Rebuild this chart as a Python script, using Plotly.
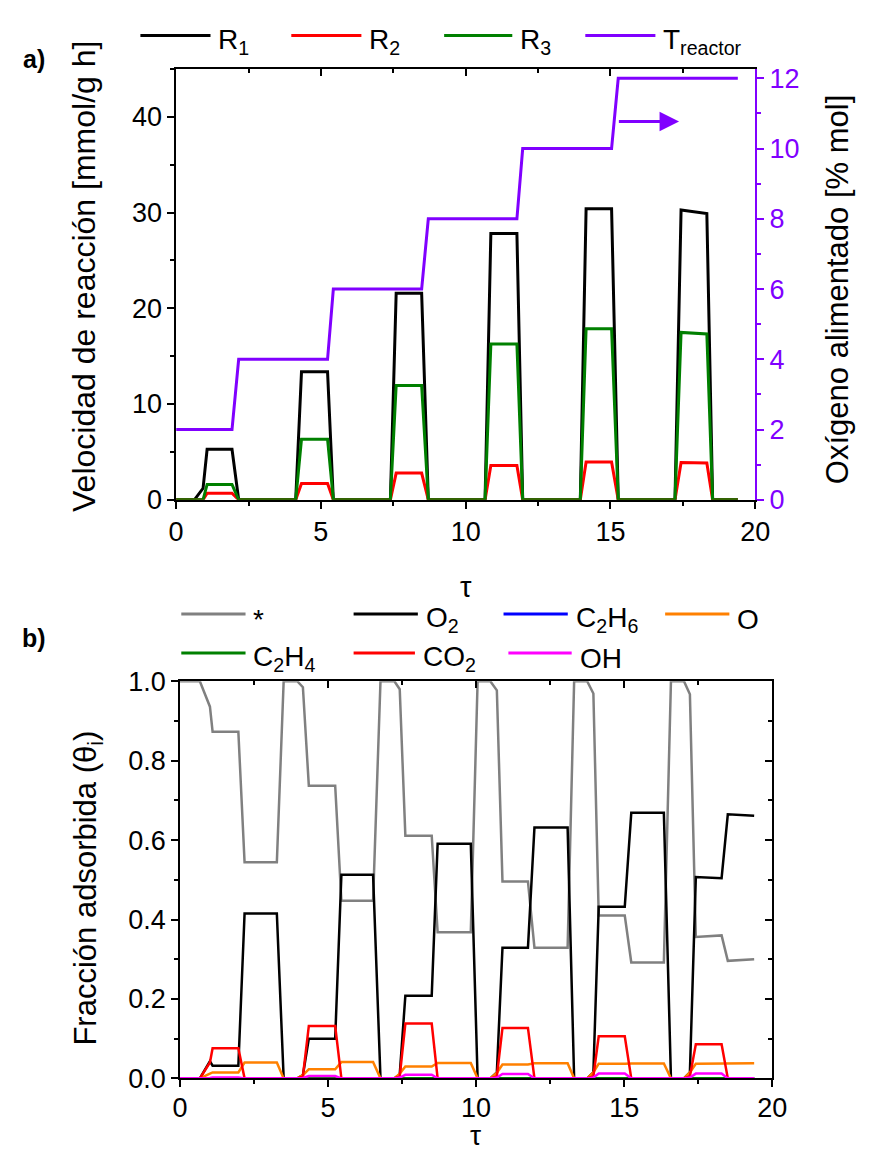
import plotly.graph_objects as go

W, H = 869, 1156
FONT = "Liberation Sans, Arial, sans-serif"

# ---------------- Panel a data ----------------
tau_a = [0, 0.63, 0.93, 1.07, 1.93, 2.16, 4.13, 4.33, 5.23, 5.43, 7.40, 7.60, 8.48, 8.71,
         10.67, 10.87, 11.77, 11.97, 13.96, 14.16, 15.04, 15.27, 17.23, 17.44, 18.33, 18.53, 19.40]
R1 = [0, 0, 1.2, 5.27, 5.27, 0, 0, 13.37, 13.37, 0, 0, 21.56, 21.56, 0,
      0, 27.8, 27.8, 0, 0, 30.4, 30.4, 0, 0, 30.27, 29.9, 0, 0]
R2 = [0, 0, 0, 0.68, 0.68, 0, 0, 1.70, 1.70, 0, 0, 2.79, 2.79, 0,
      0, 3.57, 3.57, 0, 0, 3.95, 3.95, 0, 0, 3.88, 3.84, 0, 0]
R3 = [0, 0, 0, 1.60, 1.60, 0, 0, 6.33, 6.33, 0, 0, 11.94, 11.94, 0,
      0, 16.26, 16.26, 0, 0, 17.86, 17.86, 0, 0, 17.48, 17.31, 0, 0]
tau_T = [0, 1.93, 2.16, 5.23, 5.43, 8.48, 8.71, 11.77, 11.97, 15.04, 15.27, 19.40]
T_reactor = [2, 2, 4, 4, 6, 6, 8, 8, 10, 10, 12, 12]
arrow_tau = [15.24, 17.37]
arrow_val = 10.77

# ---------------- Panel b data ----------------
tau_b = [0, 0.67, 1.01, 1.10, 1.97, 2.18, 3.27, 3.50, 3.96, 4.15, 4.35, 5.24, 5.45, 6.52,
         6.77, 7.24, 7.42, 7.61, 8.50, 8.70, 9.82, 10.05, 10.48, 10.70, 10.89, 11.75, 11.97,
         13.09, 13.31, 13.75, 13.96, 14.14, 15.02, 15.24, 16.34, 16.58, 17.02, 17.22, 17.42,
         18.29, 18.50, 19.39]
theta_star = [1.0, 1.0, 0.936, 0.873, 0.873, 0.544, 0.544, 1.0, 1.0, 0.985, 0.737, 0.737, 0.447, 0.447,
              1.0, 1.0, 0.98, 0.611, 0.611, 0.368, 0.368, 1.0, 1.0, 0.977, 0.496, 0.496, 0.329,
              0.329, 1.0, 1.0, 0.969, 0.41, 0.41, 0.292, 0.292, 1.0, 1.0, 0.967, 0.356,
              0.36, 0.296, 0.300]
theta_O2 = [0, 0, 0.043, 0.032, 0.032, 0.415, 0.415, 0, 0, 0.008, 0.10, 0.10, 0.513, 0.513,
            0, 0, 0.01, 0.208, 0.208, 0.591, 0.591, 0, 0, 0.015, 0.329, 0.329, 0.632,
            0.632, 0, 0, 0.015, 0.432, 0.432, 0.669, 0.669, 0, 0, 0.015, 0.507,
            0.504, 0.665, 0.661]
theta_C2H6 = [0] * 42
theta_O = [0, 0, 0.012, 0.015, 0.015, 0.040, 0.040, 0, 0, 0.008, 0.023, 0.023, 0.041, 0.041,
           0, 0, 0.012, 0.030, 0.030, 0.039, 0.039, 0, 0, 0.014, 0.035, 0.035, 0.038,
           0.038, 0, 0, 0.015, 0.037, 0.037, 0.0376, 0.0376, 0, 0, 0.015, 0.037,
           0.037, 0.038, 0.038]
theta_C2H4 = [0, 0, 0, 0.0005, 0.0005, 0, 0, 0, 0, 0, 0.0015, 0.0015, 0, 0,
              0, 0, 0, 0.0015, 0.0015, 0, 0, 0, 0, 0, 0.0015, 0.0015, 0,
              0, 0, 0, 0, 0.0015, 0.0015, 0, 0, 0, 0, 0, 0.0015,
              0.0015, 0, 0]
theta_CO2 = [0, 0, 0.04, 0.076, 0.076, 0, 0, 0, 0, 0.005, 0.132, 0.132, 0, 0,
             0, 0, 0.005, 0.138, 0.138, 0, 0, 0, 0, 0.005, 0.127, 0.127, 0,
             0, 0, 0, 0.005, 0.106, 0.106, 0, 0, 0, 0, 0.005, 0.086,
             0.086, 0, 0]
theta_OH = [0, 0, 0.001, 0.002, 0.002, 0, 0, 0, 0, 0.001, 0.006, 0.006, 0, 0,
            0, 0, 0.002, 0.009, 0.009, 0, 0, 0, 0, 0.002, 0.011, 0.011, 0,
            0, 0, 0, 0.002, 0.012, 0.012, 0, 0, 0, 0, 0.002, 0.012,
            0.012, 0, 0]

C_BLACK, C_RED, C_GREEN, C_PURPLE = "#000000", "#FF0000", "#008000", "#8000FF"
C_GREY, C_BLUE, C_ORANGE, C_MAG = "#808080", "#0000FF", "#FF8000", "#FF00FF"

series_a = [("R<sub>1</sub>", R1, C_BLACK), ("R<sub>2</sub>", R2, C_RED), ("R<sub>3</sub>", R3, C_GREEN)]
series_b = [("*", theta_star, C_GREY), ("O<sub>2</sub>", theta_O2, C_BLACK),
            ("C<sub>2</sub>H<sub>6</sub>", theta_C2H6, C_BLUE), ("O", theta_O, C_ORANGE),
            ("C<sub>2</sub>H<sub>4</sub>", theta_C2H4, C_GREEN), ("CO<sub>2</sub>", theta_CO2, C_RED),
            ("OH", theta_OH, C_MAG)]

fig = go.Figure()
for name, vals, col in series_a:
    fig.add_trace(go.Scatter(x=tau_a, y=vals, mode="lines", name=name, showlegend=False,
                             line=dict(color=col, width=3), xaxis="x", yaxis="y"))
fig.add_trace(go.Scatter(x=tau_T, y=T_reactor, mode="lines", name="T<sub>reactor</sub>", showlegend=False,
                         line=dict(color=C_PURPLE, width=3), xaxis="x", yaxis="y2"))
for name, vals, col in series_b:
    fig.add_trace(go.Scatter(x=tau_b, y=vals, mode="lines", name=name, showlegend=False,
                             line=dict(color=col, width=2.5), xaxis="x2", yaxis="y3"))

def px(x):
    return x / W

def py(y):
    return 1 - y / H

TICKF = dict(family=FONT, size=27, color="black")
ax_common = dict(showline=True, linecolor="black", linewidth=1.5, ticks="outside", ticklen=7,
                 tickwidth=1.5, tickcolor="black", showgrid=False, zeroline=False, tickfont=TICKF)
# mirrored axes that only carry inward ticks (top / right of the frames)
mirror_common = dict(showline=False, ticks="inside", ticklen=7, tickwidth=1.5, tickcolor="black",
                     showticklabels=False, showgrid=False, zeroline=False)

XA_DOM = [px(172.7), px(767.5)]
XB_DOM = [px(176.7), px(785)]

fig.update_layout(
    width=W, height=H, margin=dict(l=0, r=0, t=0, b=0),
    paper_bgcolor="white", plot_bgcolor="white", font=dict(family=FONT, color="black"),
    xaxis=dict(domain=XA_DOM, anchor="y", range=[0, 20], tickvals=[0, 5, 10, 15, 20],
               minor=dict(dtick=2.5, ticklen=4, ticks="outside", tickcolor="black"), mirror=True, **ax_common),
    yaxis=dict(domain=[py(497.7), py(55.3)], anchor="x", range=[0, 45], tickvals=[0, 10, 20, 30, 40],
               minor=dict(dtick=5, ticklen=4, ticks="outside", tickcolor="black"), **ax_common),
    yaxis2=dict(overlaying="y", anchor="x", side="right", range=[0, 12.27], tickvals=[0, 2, 4, 6, 8, 10, 12],
                showline=True, linecolor=C_PURPLE, linewidth=2, ticks="outside", ticklen=7, tickwidth=1.5,
                tickcolor=C_PURPLE, showgrid=False, zeroline=False,
                tickfont=dict(family=FONT, size=27, color=C_PURPLE),
                minor=dict(dtick=1, ticklen=4, ticks="outside", tickcolor=C_PURPLE)),
    xaxis3=dict(overlaying="x", anchor="y", side="top", range=[0, 20], tickvals=[0, 5, 10, 15, 20],
                minor=dict(dtick=2.5, ticklen=4, ticks="inside", tickcolor="black"), **mirror_common),
    xaxis2=dict(domain=XB_DOM, anchor="y3", range=[0, 20], tickvals=[0, 5, 10, 15, 20],
                ticklabelstandoff=-3,
                minor=dict(dtick=2.5, ticklen=4, ticks="outside", tickcolor="black"), mirror=True, **ax_common),
    yaxis3=dict(domain=[py(1091.7), py(684)], anchor="x2", range=[0, 1.0],
                tickvals=[0, 0.2, 0.4, 0.6, 0.8, 1.0], tickformat=".1f",
                minor=dict(dtick=0.1, ticklen=4, ticks="outside", tickcolor="black"), mirror=True, **ax_common),
    xaxis4=dict(overlaying="x2", anchor="y3", side="top", range=[0, 20], tickvals=[0, 5, 10, 15, 20],
                minor=dict(dtick=2.5, ticklen=4, ticks="inside", tickcolor="black"), **mirror_common),
    yaxis4=dict(overlaying="y3", anchor="x2", side="right", range=[0, 1.0], tickvals=[0, 0.2, 0.4, 0.6, 0.8, 1.0],
                minor=dict(dtick=0.1, ticklen=4, ticks="inside", tickcolor="black"), **mirror_common),
)

# invisible carriers so the mirrored tick axes are drawn
fig.add_trace(go.Scatter(x=[0], y=[0], mode="lines", showlegend=False, hoverinfo="skip",
                         line=dict(width=0), xaxis="x3", yaxis="y"))
fig.add_trace(go.Scatter(x=[0], y=[0], mode="lines", showlegend=False, hoverinfo="skip",
                         line=dict(width=0), xaxis="x4", yaxis="y4"))

# Arrow pointing to the right axis
fig.add_annotation(x=arrow_tau[1], y=arrow_val, ax=arrow_tau[0], ay=arrow_val,
                   xref="x", yref="y2", axref="x", ayref="y2", text="", showarrow=True,
                   arrowhead=2, arrowsize=1.3, arrowwidth=3, arrowcolor=C_PURPLE)

TITLEF = dict(family=FONT, size=31, color="black")
annots = [
    dict(text="Velocidad de reacción [mmol/g h]", x=px(78), y=py(268), textangle=-90,
         font=dict(family=FONT, size=32, color="black")),
    dict(text="Oxígeno alimentado [% mol]", x=px(852), y=py(282), textangle=-90, font=TITLEF),
    dict(text="Fracción adsorbida (θ<sub>i</sub>)", x=px(82), y=py(896), textangle=-90, font=TITLEF),
    dict(text="τ", x=px(470), y=py(587), font=dict(family=FONT, size=29, color="black")),
    dict(text="τ", x=px(480), y=py(1150), font=dict(family=FONT, size=28, color="black")),
    dict(text="<b>a)</b>", x=px(27), y=py(45), font=dict(family=FONT, size=25, color="black")),
    dict(text="<b>b)</b>", x=px(27), y=py(640), font=dict(family=FONT, size=25, color="black")),
]
for a in annots:
    fig.add_annotation(xref="paper", yref="paper", showarrow=False, xanchor="center", yanchor="middle", **a)

LEGF = dict(family=FONT, size=28, color="black")
leg_a = [(136, 208, 21, series_a[0][0], C_BLACK), (291, 363, 21, series_a[1][0], C_RED),
         (448, 518, 21, series_a[2][0], C_GREEN), (593, 665, 21, "T<sub>reactor</sub>", C_PURPLE)]
leg_b = [(178, 244, 615, series_b[0][0], C_GREY), (355, 421, 615, series_b[1][0], C_BLACK),
         (509, 575, 615, series_b[2][0], C_BLUE), (675, 741, 615, series_b[3][0], C_ORANGE),
         (178, 244, 655, series_b[4][0], C_GREEN), (355, 418, 655, series_b[5][0], C_RED),
         (514, 579, 655, series_b[6][0], C_MAG)]
for x0, x1, yl, label, col in leg_a + leg_b:
    fig.add_shape(type="line", xref="paper", yref="paper", x0=px(x0), x1=px(x1), y0=py(yl), y1=py(yl),
                  line=dict(color=col, width=3))
    fig.add_annotation(xref="paper", yref="paper", showarrow=False, xanchor="left", yanchor="middle",
                       x=px(x1 + 6), y=py(yl + 6), text=label, font=LEGF)

fig.write_html("out.html", config={"displayModeBar": False},
               post_script="document.body.style.margin='0';document.body.style.overflow='hidden';")
